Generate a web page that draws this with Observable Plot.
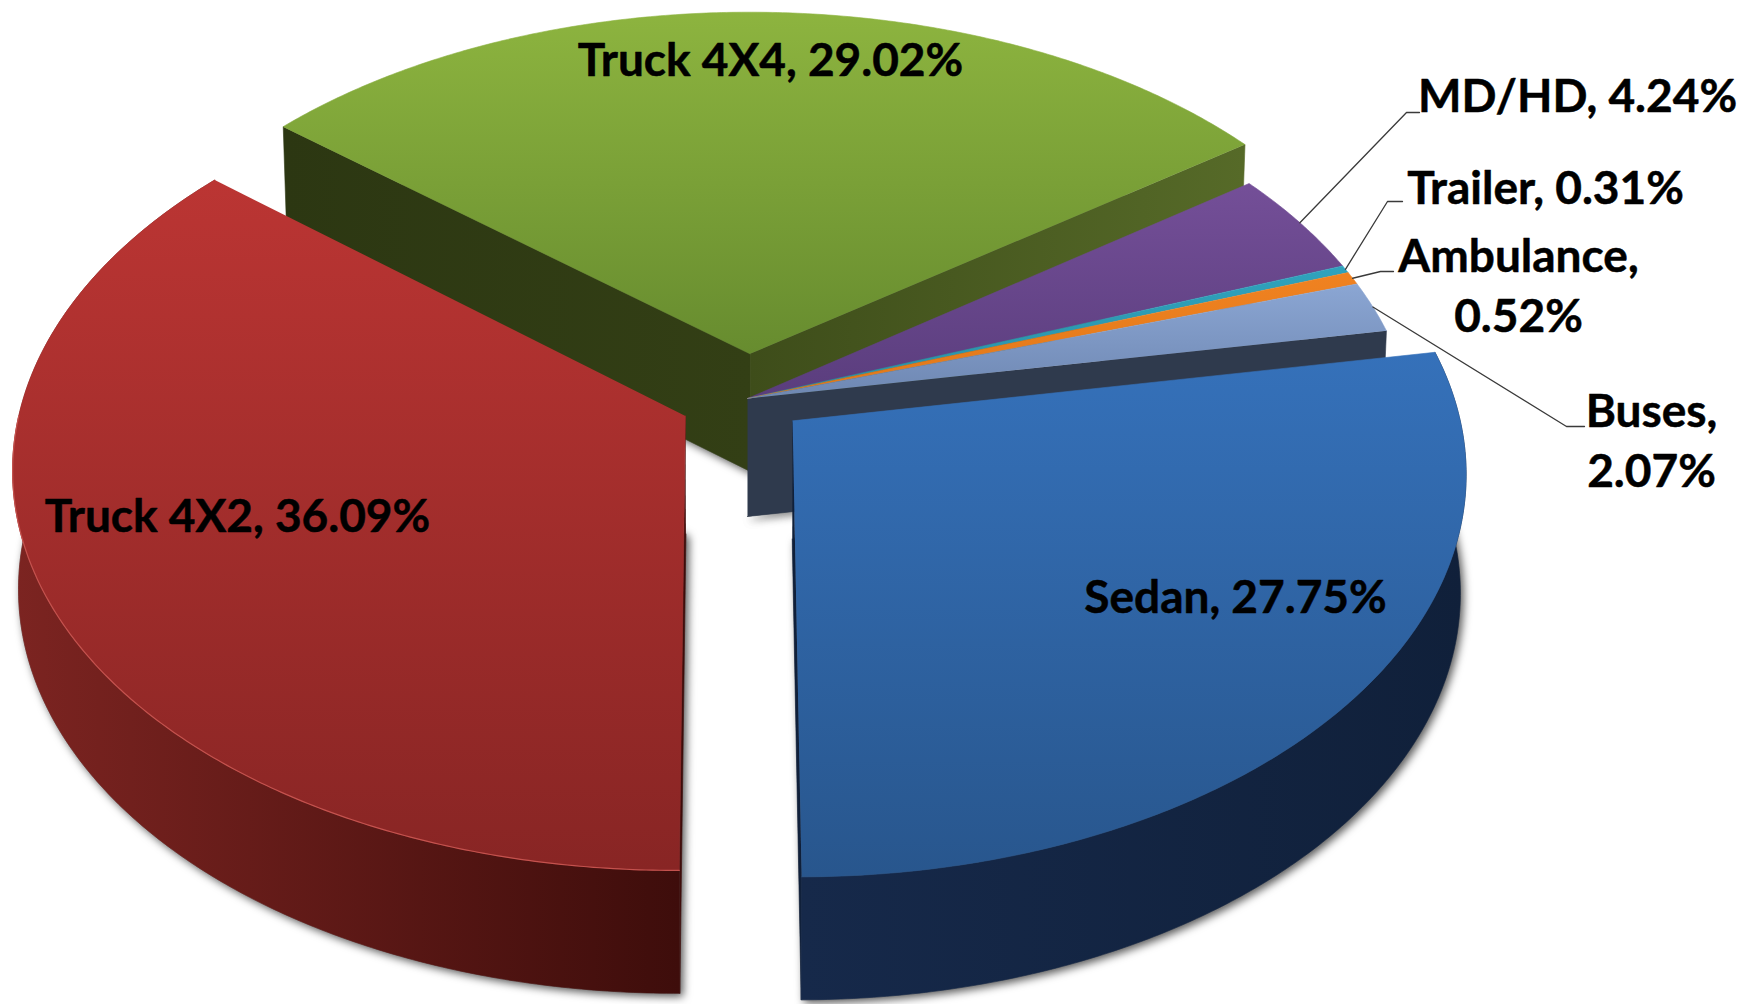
<!DOCTYPE html>
<html>
<head>
<meta charset="utf-8">
<script src="https://cdn.jsdelivr.net/npm/d3@7"></script>
<script src="https://cdn.jsdelivr.net/npm/@observablehq/plot@0.6"></script>
<style>html,body{margin:0;padding:0;background:#fff;overflow:hidden}svg{display:block}</style>
</head>
<body>
<div id="chart"></div>
<script>
// Data, clockwise from the Buses/Sedan boundary
const categories = ["Sedan", "Truck 4X2", "Truck 4X4", "MD/HD", "Trailer", "Ambulance", "Buses"];
const shares = [27.75, 36.09, 29.02, 4.24, 0.31, 0.52, 2.07];
const explode = [0.088, 0.103, 0.115, 0, 0, 0, 0];
const labelLines = ["Sedan, 27.75%", "Truck 4X2, 36.09%", "Truck 4X4, 29.02%", "MD/HD, 4.24%", "Trailer, 0.31%", "Ambulance,\n0.52%", "Buses,\n2.07%"];

// Layout of the 3-D view and the label placement
const view = {cx: 747, cy: 398, a: 663, b: 394, p: 0.123, startAngle: 79.9, depth: 118, shrink: 0.992};
const labelX = [1235, 237, 770, 1577, 1545, 1518, 1651];
const labelY = [593, 512, 56, 92, 184, 282, 437];
const elbowX = [null, null, null, [1406, 1419], [1387, 1402], [1380, 1393], [1566, 1584]];
const elbowY = [null, null, null, 112, 201, 271, 426];
const topStops = [["#3571ba", "#28568d"], ["#bb3533", "#882524"], ["#8db43f", "#678c2f"], ["#744f98", "#5a3d7d"], ["#2fa3bd", "#2a8fa6"], ["#f08221", "#e07818"], ["#8ba6d3", "#6e87b2"]];
const wallStops = [["#16294a", "#10203a"], ["#7c2421", "#3e0d0b"], ["#2c3712", "#333f15"], ["#3e4d1a", "#566a28"]];

const rad = Math.PI / 180;
function project(angle, radius, slice, lower) {
  const dir = (slice.start + slice.end) / 2 * rad;
  const X = slice.explode * Math.sin(dir) + radius * Math.sin(angle * rad);
  const Z = slice.explode * Math.cos(dir) + radius * Math.cos(angle * rad);
  const s = 1 / (1 + view.p * Z);
  let x = view.cx + view.a * X * s;
  let y = view.cy - view.b * Z * s;
  if (lower) {
    x = view.cx + (x - view.cx) * view.shrink;
    y += view.depth * (1 - 0.04 * Z);
  }
  return {x, y};
}
let running = view.startAngle;
const slices = categories.map((name, i) => {
  const start = running;
  running += shares[i] * 3.6;
  return {name, i, start, end: running, explode: explode[i]};
});
const arcAngles = (from, to) => {
  const n = Math.max(2, Math.ceil((to - from) / 0.5));
  return d3.range(n + 1).map((k) => from + (to - from) * k / n);
};
const face = (s, lower) => [project(0, 0, s, lower), ...arcAngles(s.start, s.end).map((t) => project(t, 1, s, lower))];
const band = (s, from, to) => {
  const angles = arcAngles(from, to);
  return [...angles.map((t) => project(t, 1, s, false)), ...angles.reverse().map((t) => project(t, 1, s, true))];
};
const radial = (s, t) => [project(0, 0, s, false), project(t, 1, s, false), project(t, 1, s, true), project(0, 0, s, true)];
const poly = (pts, fill, opts = {}) => Plot.line(pts, {x: "x", y: "y", fill, stroke: fill, strokeWidth: 0.6, curve: "linear", ...opts});

function defs() {
  const d = d3.create("svg:defs");
  const add = (id, c0, c1, horizontal) => {
    const g = d.append("linearGradient").attr("id", id).attr("x1", 0).attr("y1", 0)
      .attr("x2", horizontal ? 1 : 0).attr("y2", horizontal ? 0 : 1);
    g.append("stop").attr("offset", 0).attr("stop-color", c0);
    g.append("stop").attr("offset", 1).attr("stop-color", c1);
  };
  topStops.forEach(([a, b], i) => add("top" + i, a, b, false));
  wallStops.forEach(([a, b], i) => add("wall" + i, a, b, true));
  return d.node();
}

const [sedan, truck2, truck4, mdhd, trailer, ambulance, buses] = slices;
const leaders = slices.filter((s) => elbowX[s.i]).map((s) => [
  project((s.start + s.end) / 2, 1, s, false),
  {x: elbowX[s.i][0], y: elbowY[s.i]},
  {x: elbowX[s.i][1], y: elbowY[s.i]}
]);

const chart = Plot.plot({
  width: 1754, height: 1004,
  margin: 0,
  x: {domain: [0, 1754], range: [0, 1754], axis: null},
  y: {domain: [0, 1004], range: [0, 1004], axis: null},
  style: {background: "#fff"},
  marks: [
    defs,
    // soft ground shadow of the bases
    ...slices.slice(0, 4).concat([buses]).map((s) =>
      poly(face(s, true), "#777", {imageFilter: "drop-shadow(3px 3px 4px rgba(0,0,0,.65))"})),
    // Truck 4X4
    poly(radial(truck4, truck4.start), "url(#wall2)"),
    poly(radial(truck4, truck4.end), "url(#wall3)"),
    poly(face(truck4), "url(#top2)"),
    // small wedges
    poly(radial(buses, buses.end), "#2f3a4d"),
    poly(face(mdhd), "url(#top3)"),
    poly(face(trailer), "url(#top4)"),
    poly(face(ambulance), "url(#top5)"),
    poly(face(buses), "url(#top6)"),
    // Truck 4X2
    poly(radial(truck2, truck2.start), "#3e0d0b"),
    poly(band(truck2, truck2.start, truck2.end), "url(#wall1)"),
    poly(face(truck2), "url(#top1)"),
    Plot.line(arcAngles(truck2.start, 270).map((t) => project(t, 1, truck2, false)), {x: "x", y: "y", stroke: "#c4524e", strokeWidth: 1.2, curve: "linear"}),
    // Sedan
    poly(radial(sedan, sedan.end), "#10203a"),
    poly(band(sedan, sedan.start, sedan.end), "url(#wall0)"),
    poly(face(sedan), "url(#top0)"),
    // leader lines and labels
    ...leaders.map((pts) => Plot.line(pts, {x: "x", y: "y", stroke: "#3a3a3a", strokeWidth: 1.3, curve: "linear"})),
    Plot.text(labelLines, {
      x: (d, i) => labelX[i], y: (d, i) => labelY[i], text: (d) => d,
      fontFamily: "Lato", fontWeight: 700, fontSize: 46, lineHeight: 1.3,
      fill: "#000", stroke: "#000", strokeWidth: 0.5, textAnchor: "middle", lineAnchor: "middle"
    })
  ]
});
document.getElementById("chart").append(chart);
</script>
</body>
</html>
